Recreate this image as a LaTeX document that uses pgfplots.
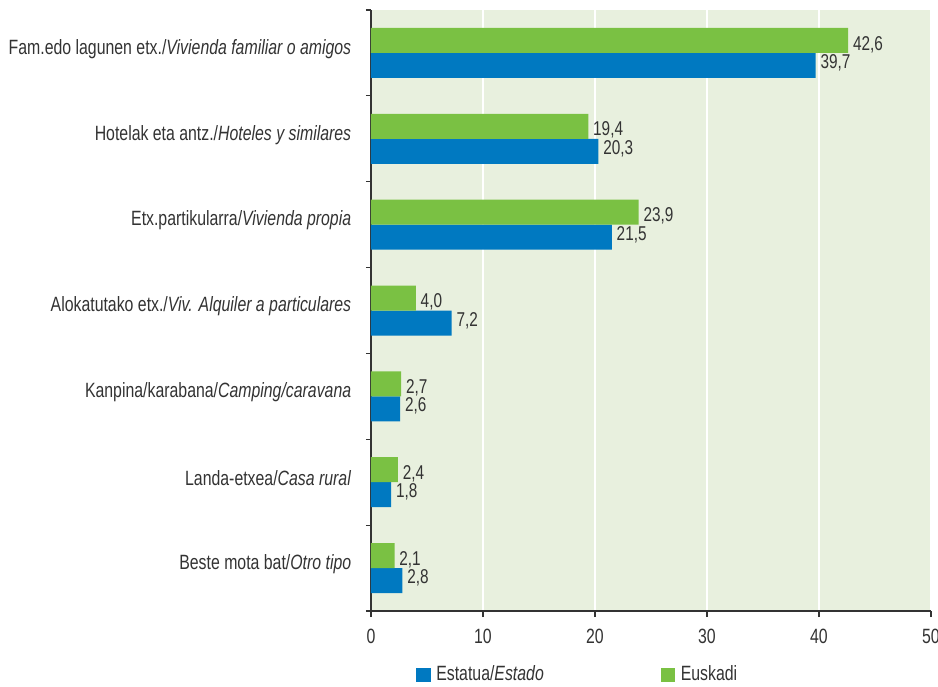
\documentclass[border=0pt]{standalone}
\usepackage{pgfplots}
\pgfplotsset{compat=1.18}
\usepackage{fontspec}
\setmainfont{Liberation Sans}[FakeStretch=0.767]
\definecolor{bgc}{HTML}{E8F0DE}
\definecolor{eusk}{HTML}{7AC143}
\definecolor{esta}{HTML}{0079C1}
\definecolor{txt}{HTML}{333333}
\begin{document}
\fontsize{15.5}{18}\selectfont
\begin{tikzpicture}
\path[use as bounding box] (-278.25pt,-56.25pt) rectangle (425.25pt,458.25pt);
\begin{axis}[
  at={(0,0)}, anchor=south west,
  scale only axis,
  width=420pt, height=450.75pt,
  xbar, bar width=18.75pt,
  xmin=0, xmax=50, ymin=-0.5, ymax=6.5,
  xtick={0,10,...,50},
  xticklabels={0,10,20,30,40,50},
  ytick={0,...,6},
  minor ytick={-0.5,0.5,...,6.5},
  yticklabels={
    {Beste mota bat/\textit{Otro tipo}},
    {Landa-etxea/\textit{Casa rural}},
    {Kanpina/karabana/\textit{Camping/caravana}},
    {Alokatutako etx./\textit{Viv. Alquiler a particulares}},
    {Etx.partikularra/\textit{Vivienda propia}},
    {Hotelak eta antz./\textit{Hoteles y similares}},
    {Fam.edo lagunen etx./\textit{Vivienda familiar o amigos}}},
  axis x line*=bottom, axis y line*=left,
  axis line style={txt, line width=0.9pt, -},
  axis background/.style={fill=bgc},
  xmajorgrids, major grid style={white, line width=1pt},
  tick align=outside,
  major tick length=4.5pt, minor tick length=3.75pt,
  major y tick style={draw=none},
  minor y tick style={txt, line width=0.9pt},
  major x tick style={txt, line width=0.9pt},
  tick label style={font=\fontsize{15.5}{18}\selectfont, text=txt},
  yticklabel style={xshift=-5pt, yshift=3pt},
  xticklabel style={yshift=-4pt},
  /pgf/number format/assume math mode=true,
  /pgf/number format/.cd, use comma, fixed, fixed zerofill, precision=1, /pgfplots/.cd,
  nodes near coords,
  every node near coord/.append style={font=\fontsize{15}{17}\selectfont, text=txt, anchor=west, inner sep=1pt, xshift=2.5pt},
  legend columns=2,
  legend style={draw=none, fill=none, at={(axis description cs:0.08,-0.1065)}, anchor=west, inner sep=0pt,
    font=\fontsize{15.5}{18}\selectfont, text=txt,
    /tikz/every even column/.append style={column sep=83.5pt},
    /tikz/every odd column/.append style={column sep=0pt}},
  legend image code/.code={\fill[#1] (0pt,-5.6pt) rectangle (11.2pt,5.6pt);},
  legend style={nodes={inner xsep=4pt}},
]
\addplot[fill=esta, draw=none, bar shift=-9.375pt,
  every node near coord/.append style={yshift=2pt}]
  coordinates {(39.7,6) (20.3,5) (21.5,4) (7.2,3) (2.6,2) (1.8,1) (2.8,0)};
\addplot[fill=eusk, draw=none, bar shift=9.375pt,
  every node near coord/.append style={yshift=-3pt}]
  coordinates {(42.6,6) (19.4,5) (23.9,4) (4.0,3) (2.7,2) (2.4,1) (2.1,0)};
\legend{Estatua/\textit{Estado}, Euskadi}
\end{axis}
\end{tikzpicture}
\end{document}
